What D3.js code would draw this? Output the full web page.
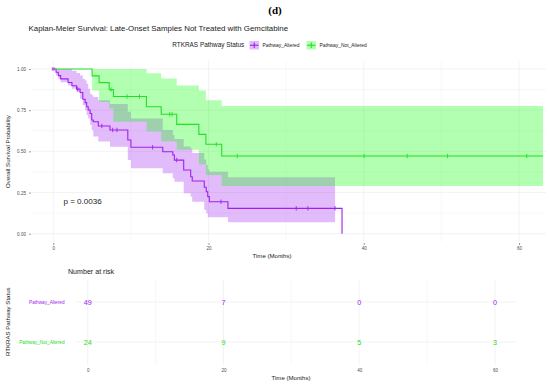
<!DOCTYPE html>
<html><head><meta charset="utf-8">
<script src="https://cdn.jsdelivr.net/npm/d3@7"></script>
<style>body{margin:0;background:#fff}svg{display:block}text{font-family:"Liberation Sans",Arial,sans-serif}</style>
</head><body>
<svg id="c" width="550" height="386"></svg>
<script>
// ---------- DATA ----------
const groups = ["Pathway_Altered", "Pathway_Not_Altered"];
const groupColors = ["#A020F0", "#22E022"];
const bandColors = ["#A020F0", "#00FF00"];

// Pathway_Altered step curve (time in months, survival, CI upper, CI lower)
const altTime  = [0, 0.35, 0.65, 0.95, 1.9, 2.4, 3.0, 3.45, 3.8, 4.1, 4.3, 4.5, 4.75, 4.95, 5.15, 5.8, 7.3, 9.6, 10.0, 14.1, 15.4, 15.6, 16.8, 17.7, 17.9, 19.45, 19.7, 19.9, 20.1, 22.5];
const altSurv  = [1, 0.98, 0.96, 0.94, 0.918, 0.898, 0.878, 0.857, 0.816, 0.796, 0.771, 0.751, 0.73, 0.69, 0.68, 0.654, 0.63, 0.569, 0.525, 0.498, 0.478, 0.447, 0.387, 0.346, 0.32, 0.282, 0.255, 0.225, 0.194, 0.154];
const altUpper = [1, 1, 1, 1, 1, 0.99, 0.975, 0.96, 0.94, 0.93, 0.91, 0.88, 0.85, 0.84, 0.83, 0.81, 0.787, 0.74, 0.70, 0.63, 0.60, 0.575, 0.53, 0.518, 0.49, 0.45, 0.417, 0.39, 0.376, 0.342];
const altLower = [1, 0.96, 0.94, 0.92, 0.90, 0.88, 0.86, 0.82, 0.78, 0.75, 0.72, 0.70, 0.66, 0.63, 0.59, 0.56, 0.528, 0.447, 0.397, 0.367, 0.336, 0.316, 0.245, 0.225, 0.194, 0.144, 0.124, 0.10, 0.10, 0.069];
const altBandEnd = 36.3;
const altLastEvent = 37.2;
const altCensor = [3.15, 6.25, 7.65, 8.2, 12.8, 15.9, 21.6, 31.3, 32.8, 36.3];

// Pathway_Not_Altered step curve
const notTime  = [0, 5.0, 5.9, 7.2, 7.74, 12.0, 13.9, 15.9, 18.75, 19.66, 21.7];
const notSurv  = [1, 0.958, 0.917, 0.875, 0.833, 0.771, 0.725, 0.664, 0.603, 0.543, 0.472];
const notUpper = [1, 1, 1, 1, 1, 0.974, 0.943, 0.90, 0.87, 0.81, 0.775];
const notLower = [1, 0.87, 0.80, 0.76, 0.68, 0.62, 0.56, 0.51, 0.42, 0.356, 0.29];
const notEnd = 63.1;
const notCensor = [7.45, 9.5, 11.1, 15.0, 15.3, 21.0, 23.7, 40.05, 45.6, 50.8, 61.0];

const xTicks = [0, 20, 40, 60];
const yTicks = [0, 0.25, 0.5, 0.75, 1];
const riskTimes = [0, 20, 40, 60];
const riskAltered = [49, 7, 0, 0];
const riskNotAltered = [24, 9, 5, 3];
const pValueText = "p = 0.0036";

// ---------- DRAW ----------
const svg = d3.select("#c");
const x = d3.scaleLinear().domain([0, 60]).range([53.3, 519]);
const y = d3.scaleLinear().domain([0, 1]).range([233.7, 69]);
const panel = {l: 32, r: 546, t: 61, b: 242};

// headings
svg.append("text").attr("x", 275).attr("y", 14).attr("text-anchor", "middle")
  .style("font-family", "'Liberation Serif',serif").style("font-weight", "bold").style("font-size", "11px")
  .attr("fill", "#000").text("(d)");
svg.append("text").attr("x", 28.5).attr("y", 31).style("font-size", "7.9px").attr("fill", "#1a1a1a")
  .text("Kaplan-Meier Survival: Late-Onset Samples Not Treated with Gemcitabine");

// legend
const lg = svg.append("g");
lg.append("text").attr("x", 172.3).attr("y", 47.3).style("font-size", "6.4px").attr("fill", "#1a1a1a").text("RTKRAS Pathway Status");
const legX = [249.5, 306.5], legTX = [262.5, 319.5];
groups.forEach((g, i) => {
  lg.append("rect").attr("x", legX[i]).attr("y", 41).attr("width", 9.5).attr("height", 8.5)
    .attr("fill", bandColors[i]).attr("fill-opacity", 0.3);
  lg.append("line").attr("x1", legX[i] + 0.5).attr("x2", legX[i] + 9).attr("y1", 45.25).attr("y2", 45.25)
    .attr("stroke", groupColors[i]).attr("stroke-width", 1.1);
  lg.append("line").attr("x1", legX[i] + 4.75).attr("x2", legX[i] + 4.75).attr("y1", 42.5).attr("y2", 48)
    .attr("stroke", groupColors[i]).attr("stroke-width", 1.1);
  lg.append("text").attr("x", legTX[i]).attr("y", 47).style("font-size", "4.9px").attr("fill", "#1a1a1a").text(g);
});

// grid
const grid = svg.append("g");
d3.range(0, 61, 10).forEach(v => {
  grid.append("line").attr("x1", x(v)).attr("x2", x(v)).attr("y1", panel.t).attr("y2", panel.b)
    .attr("stroke", "#ebebeb").attr("stroke-width", v % 20 === 0 ? 0.6 : 0.35);
});
d3.range(0, 1.001, 0.125).forEach(v => {
  grid.append("line").attr("x1", panel.l).attr("x2", panel.r).attr("y1", y(v)).attr("y2", y(v))
    .attr("stroke", "#ebebeb").attr("stroke-width", Math.abs(v * 4 - Math.round(v * 4)) < 1e-6 ? 0.6 : 0.35);
});

// bands
function bandData(t, u, l, end) {
  const d = t.map((tt, i) => ({t: tt, u: u[i], l: l[i]}));
  d.push({t: end, u: u[u.length - 1], l: l[l.length - 1]});
  return d;
}
const area = d3.area().curve(d3.curveStepAfter).x(d => x(d.t)).y0(d => y(d.l)).y1(d => y(d.u));
svg.append("path").datum(bandData(altTime, altUpper, altLower, altBandEnd))
  .attr("d", area).attr("fill", bandColors[0]).attr("fill-opacity", 0.3);
svg.append("path").datum(bandData(notTime, notUpper, notLower, notEnd))
  .attr("d", area).attr("fill", bandColors[1]).attr("fill-opacity", 0.3);

// curves
const line = d3.line().curve(d3.curveStepAfter).x(d => x(d.t)).y(d => y(d.s));
const altLine = altTime.map((t, i) => ({t, s: altSurv[i]}));
altLine.push({t: altLastEvent, s: 0});
const notLine = notTime.map((t, i) => ({t, s: notSurv[i]}));
notLine.push({t: notEnd, s: notSurv[notSurv.length - 1]});
svg.append("path").datum(altLine).attr("d", line).attr("fill", "none").attr("stroke", groupColors[0]).attr("stroke-width", 1.1);
svg.append("path").datum(notLine).attr("d", line).attr("fill", "none").attr("stroke", groupColors[1]).attr("stroke-width", 1.1);

// censor marks
function survAt(times, surv, t) {
  let s = surv[0];
  for (let i = 0; i < times.length; i++) if (times[i] <= t) s = surv[i];
  return s;
}
function drawCensor(cs, times, surv, col) {
  svg.append("g").selectAll("line").data(cs).join("line")
    .attr("x1", d => x(d)).attr("x2", d => x(d))
    .attr("y1", d => y(survAt(times, surv, d)) - 2.2).attr("y2", d => y(survAt(times, surv, d)) + 2.2)
    .attr("stroke", col).attr("stroke-width", 0.9);
}
drawCensor(altCensor, altTime, altSurv, groupColors[0]);
drawCensor(notCensor, notTime, notSurv, groupColors[1]);
// start point markers
svg.append("rect").attr("x", x(0) - 1.5).attr("y", y(1) - 1.5).attr("width", 3).attr("height", 3).attr("fill", "#b060e0");

// p-value
svg.append("text").attr("x", x(1.3)).attr("y", y(0.2) + 2.9).style("font-size", "8.1px").attr("fill", "#1a1a1a").text(pValueText);

// axes
const axY = svg.append("g").attr("transform", `translate(${panel.l - 1},0)`)
  .call(d3.axisLeft(y).tickValues(yTicks).tickFormat(d3.format(".2f")).tickSize(2).tickPadding(3));
const axX = svg.append("g").attr("transform", `translate(0,${panel.b + 1})`)
  .call(d3.axisBottom(x).tickValues(xTicks).tickFormat(d3.format("d")).tickSize(2).tickPadding(2));
[axY, axX].forEach(a => {
  a.select(".domain").remove();
  a.selectAll(".tick line").attr("stroke", "#333").attr("stroke-width", 0.5);
  a.selectAll(".tick text").attr("fill", "#4d4d4d").style("font-size", "4.6px").style("font-family", "'Liberation Sans',Arial,sans-serif");
});
svg.append("text").attr("transform", "translate(9.8,151.5) rotate(-90)").attr("text-anchor", "middle")
  .style("font-size", "6.1px").attr("fill", "#1a1a1a").text("Overall Survival Probability");
svg.append("text").attr("x", 272).attr("y", 258).attr("text-anchor", "middle")
  .style("font-size", "6.1px").attr("fill", "#1a1a1a").text("Time (Months)");

// ---------- Risk table ----------
const xr = d3.scaleLinear().domain([0, 60]).range([87.7, 495]);
const yr = d3.scalePoint().domain(groups).range([302, 342]);
const rt = {l: 77, r: 515, t: 280, b: 365};
svg.append("text").attr("x", 68).attr("y", 273.5).style("font-size", "7.1px").attr("fill", "#1a1a1a").text("Number at risk");
d3.range(0, 61, 10).forEach(v => {
  svg.append("line").attr("x1", xr(v)).attr("x2", xr(v)).attr("y1", rt.t).attr("y2", rt.b)
    .attr("stroke", "#ebebeb").attr("stroke-width", v % 20 === 0 ? 0.6 : 0.35);
});
groups.forEach(g => {
  svg.append("line").attr("x1", rt.l).attr("x2", rt.r).attr("y1", yr(g)).attr("y2", yr(g))
    .attr("stroke", "#ebebeb").attr("stroke-width", 0.6);
});
const riskRows = [riskAltered, riskNotAltered];
groups.forEach((g, gi) => {
  svg.append("g").selectAll("text").data(riskTimes).join("text")
    .attr("x", d => xr(d)).attr("y", yr(g) + 2.6).attr("text-anchor", "middle")
    .style("font-size", "7.2px").attr("fill", groupColors[gi])
    .text((d, i) => riskRows[gi][i]);
  svg.append("text").attr("x", 64.5).attr("y", yr(g) + 1.7).attr("text-anchor", "end")
    .style("font-size", "4.7px").attr("fill", groupColors[gi]).text(g);
});
const axR = svg.append("g").attr("transform", `translate(0,366)`)
  .call(d3.axisBottom(xr).tickValues(riskTimes).tickFormat(d3.format("d")).tickSize(0).tickPadding(3));
axR.select(".domain").remove();
axR.selectAll(".tick text").attr("fill", "#4d4d4d").style("font-size", "4.6px").style("font-family", "'Liberation Sans',Arial,sans-serif");
svg.append("text").attr("x", 291).attr("y", 380).attr("text-anchor", "middle")
  .style("font-size", "6.1px").attr("fill", "#1a1a1a").text("Time (Months)");
svg.append("text").attr("transform", "translate(9.6,321.7) rotate(-90)").attr("text-anchor", "middle")
  .style("font-size", "6.1px").attr("fill", "#1a1a1a").text("RTKRAS Pathway Status");
</script>
</body></html>
